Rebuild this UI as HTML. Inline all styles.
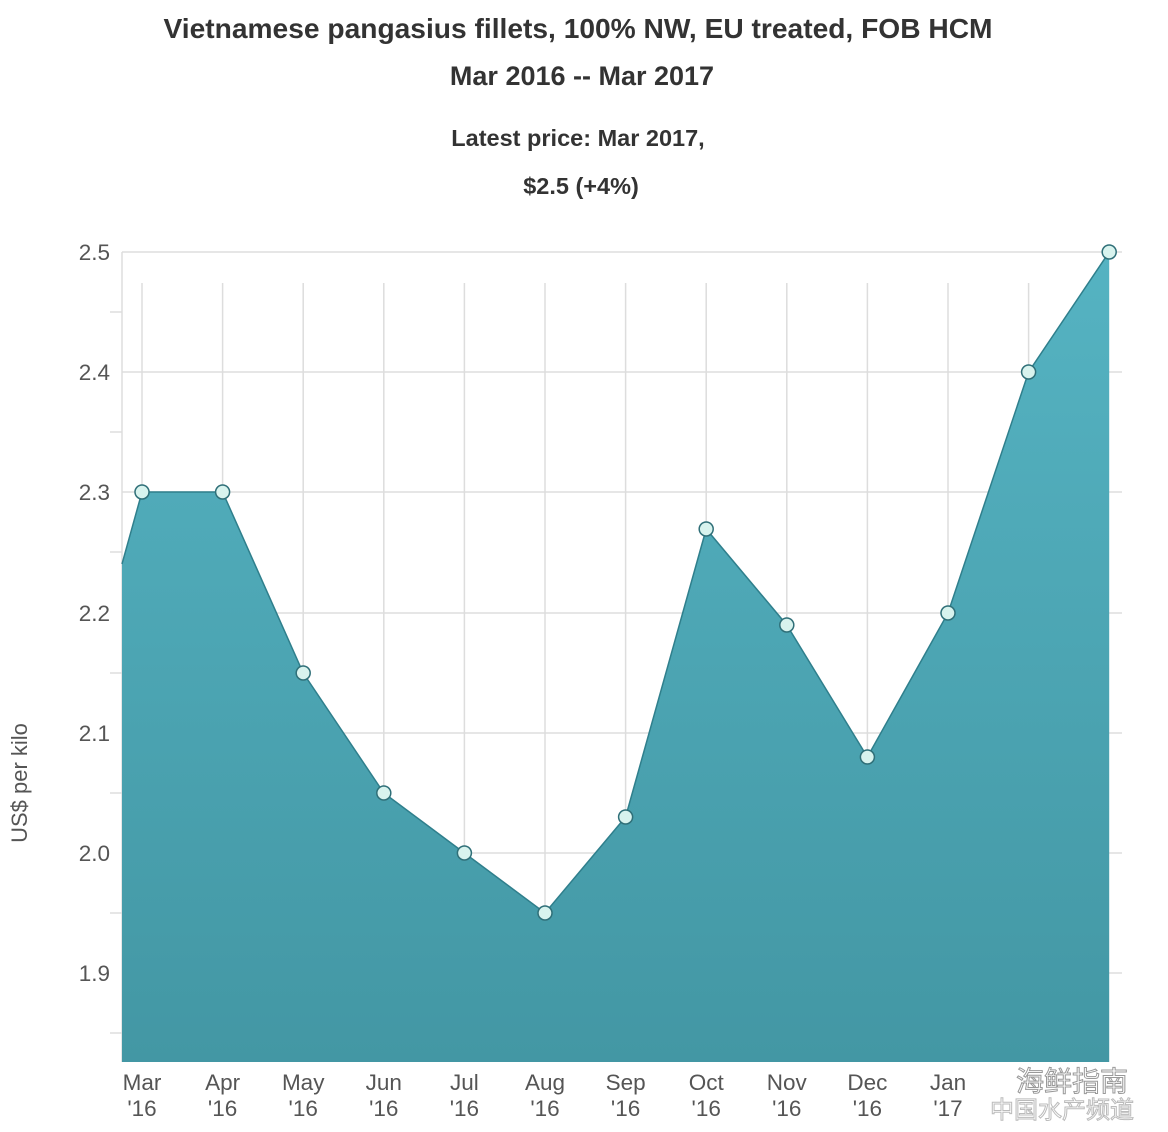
<!DOCTYPE html>
<html><head><meta charset="utf-8"><style>
html,body{margin:0;padding:0;background:#fff;}
svg{display:block;font-family:"Liberation Sans",Arial,sans-serif;}
</style></head><body>
<svg width="1168" height="1132" viewBox="0 0 1168 1132">
<defs><linearGradient id="g" x1="0" y1="0" x2="0" y2="1">
<stop offset="0" stop-color="#55b3c2"/><stop offset="1" stop-color="#4397a4"/></linearGradient></defs>
<g font-weight="bold" fill="#333" text-anchor="middle">
<text x="578" y="38" font-size="27.5" textLength="829" lengthAdjust="spacingAndGlyphs">Vietnamese pangasius fillets, 100% NW, EU treated, FOB HCM</text>
<text x="582" y="85" font-size="27">Mar 2016 -- Mar 2017</text>
<text x="578" y="146" font-size="23.5">Latest price: Mar 2017,</text>
<text x="581" y="194" font-size="23.5">$2.5 (+4%)</text>
</g>
<g stroke="#ddd" stroke-width="1.5">
<line x1="122" y1="252" x2="1122" y2="252"/><line x1="122" y1="372" x2="1122" y2="372"/>
<line x1="122" y1="492" x2="1122" y2="492"/><line x1="122" y1="613" x2="1122" y2="613"/>
<line x1="122" y1="733" x2="1122" y2="733"/><line x1="122" y1="853" x2="1122" y2="853"/>
<line x1="122" y1="973" x2="1122" y2="973"/>
<line x1="122" y1="252" x2="122" y2="1062"/>
<line x1="110" y1="312" x2="122" y2="312"/><line x1="110" y1="432" x2="122" y2="432"/>
<line x1="110" y1="552" x2="122" y2="552"/><line x1="110" y1="673" x2="122" y2="673"/>
<line x1="110" y1="793" x2="122" y2="793"/><line x1="110" y1="913" x2="122" y2="913"/>
<line x1="110" y1="1033" x2="122" y2="1033"/>
<line x1="142" y1="283" x2="142" y2="1062"/><line x1="222.6" y1="283" x2="222.6" y2="1062"/>
<line x1="303.2" y1="283" x2="303.2" y2="1062"/><line x1="383.8" y1="283" x2="383.8" y2="1062"/>
<line x1="464.4" y1="283" x2="464.4" y2="1062"/><line x1="545" y1="283" x2="545" y2="1062"/>
<line x1="625.6" y1="283" x2="625.6" y2="1062"/><line x1="706.2" y1="283" x2="706.2" y2="1062"/>
<line x1="786.8" y1="283" x2="786.8" y2="1062"/><line x1="867.4" y1="283" x2="867.4" y2="1062"/>
<line x1="948" y1="283" x2="948" y2="1062"/><line x1="1028.6" y1="283" x2="1028.6" y2="1062"/>
</g>
<polygon fill="url(#g)" points="122,564 142,492 222.6,492 303.2,673 383.8,793 464.4,853 545,913 625.6,817 706.2,529 786.8,625 867.4,757 948,613 1028.6,372 1109.2,252 1109.2,1062 122,1062"/>
<polyline fill="none" stroke="#2f7f8c" stroke-width="1.5" points="122,564 142,492 222.6,492 303.2,673 383.8,793 464.4,853 545,913 625.6,817 706.2,529 786.8,625 867.4,757 948,613 1028.6,372 1109.2,252"/>
<g fill="#d8f3ee" stroke="#2f6f78" stroke-width="1.5">
<circle cx="142" cy="492" r="7"/><circle cx="222.6" cy="492" r="7"/><circle cx="303.2" cy="673" r="7"/>
<circle cx="383.8" cy="793" r="7"/><circle cx="464.4" cy="853" r="7"/><circle cx="545" cy="913" r="7"/>
<circle cx="625.6" cy="817" r="7"/><circle cx="706.2" cy="529" r="7"/><circle cx="786.8" cy="625" r="7"/>
<circle cx="867.4" cy="757" r="7"/><circle cx="948" cy="613" r="7"/><circle cx="1028.6" cy="372" r="7"/>
<circle cx="1109.2" cy="252" r="7"/>
</g>
<g fill="#555" font-size="22.5" text-anchor="end">
<text x="110" y="260">2.5</text><text x="110" y="380">2.4</text><text x="110" y="500">2.3</text>
<text x="110" y="621">2.2</text><text x="110" y="741">2.1</text><text x="110" y="861">2.0</text>
<text x="110" y="981">1.9</text>
</g>
<text transform="translate(27,783) rotate(-90)" fill="#555" font-size="22" text-anchor="middle">US$ per kilo</text>
<g fill="#555" font-size="22.5" text-anchor="middle">
<text x="142" y="1090">Mar</text><text x="142" y="1116">'16</text>
<text x="222.6" y="1090">Apr</text><text x="222.6" y="1116">'16</text>
<text x="303.2" y="1090">May</text><text x="303.2" y="1116">'16</text>
<text x="383.8" y="1090">Jun</text><text x="383.8" y="1116">'16</text>
<text x="464.4" y="1090">Jul</text><text x="464.4" y="1116">'16</text>
<text x="545" y="1090">Aug</text><text x="545" y="1116">'16</text>
<text x="625.6" y="1090">Sep</text><text x="625.6" y="1116">'16</text>
<text x="706.2" y="1090">Oct</text><text x="706.2" y="1116">'16</text>
<text x="786.8" y="1090">Nov</text><text x="786.8" y="1116">'16</text>
<text x="867.4" y="1090">Dec</text><text x="867.4" y="1116">'16</text>
<text x="948" y="1090">Jan</text><text x="948" y="1116">'17</text>
</g>
<g font-family="'Liberation Sans','Noto Sans CJK SC',sans-serif" fill="#fff" stroke="#999" stroke-width="1">
<text x="1016" y="1091" font-size="28">海鲜指南</text>
<text x="990" y="1118" font-size="24" fill="none" stroke="#bbb">中国水产频道</text>
</g>
</svg>
</body></html>
